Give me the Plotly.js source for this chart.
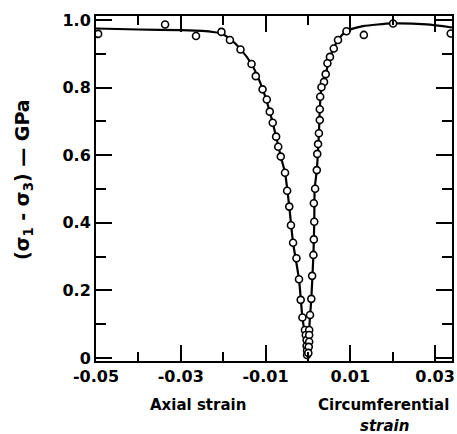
<!DOCTYPE html>
<html>
<head>
<meta charset="utf-8">
<script src="https://cdn.plot.ly/plotly-3.0.1.min.js"></script>
<style>html,body{margin:0;padding:0;background:#fff;}#chart{width:457px;height:434px;}</style>
</head>
<body>
<div id="chart"></div>
<script>
// Measured points: axial strain branch (negative strain)
const axialStrain = [-0.0495, -0.0337, -0.0264, -0.0204, -0.0184, -0.0159, -0.0133, -0.0123, -0.0107, -0.0097, -0.0090, -0.0083, -0.0075, -0.0070, -0.0064, -0.0054, -0.0049, -0.0044, -0.0040, -0.0035, -0.0027, -0.0021, -0.0017, -0.0013, -0.0007, -0.0005, -0.0003, -0.0003, -0.0002, -0.0002];
const axialStress = [0.959, 0.987, 0.953, 0.965, 0.941, 0.913, 0.870, 0.834, 0.795, 0.765, 0.729, 0.696, 0.655, 0.625, 0.596, 0.548, 0.495, 0.448, 0.393, 0.341, 0.295, 0.233, 0.172, 0.120, 0.083, 0.068, 0.053, 0.036, 0.022, 0.009];
// Measured points: circumferential strain branch (positive strain)
const circStrain = [0.0337, 0.0201, 0.0132, 0.0091, 0.0071, 0.0061, 0.0052, 0.0046, 0.0042, 0.0038, 0.0032, 0.0029, 0.0028, 0.0028, 0.0026, 0.0024, 0.0022, 0.0021, 0.0017, 0.0014, 0.0015, 0.0014, 0.0013, 0.0010, 0.0008, 0.0005, 0.0003, 0.0003, 0.0003, 0.0002, 0.0001];
const circStress = [0.960, 0.990, 0.956, 0.967, 0.941, 0.916, 0.891, 0.872, 0.840, 0.817, 0.801, 0.773, 0.736, 0.704, 0.665, 0.633, 0.604, 0.556, 0.501, 0.458, 0.403, 0.351, 0.305, 0.243, 0.175, 0.127, 0.083, 0.068, 0.048, 0.033, 0.015];
// Fitted curves
const fitAxialStrain = [-0.0500, -0.0400, -0.0300, -0.0250, -0.0220, -0.0204, -0.0184, -0.0159, -0.0133, -0.0107, -0.0090, -0.0075, -0.0064, -0.0054, -0.0044, -0.0035, -0.0021, -0.0013, -0.0006, -0.0002];
const fitAxialStress = [0.975, 0.972, 0.970, 0.968, 0.964, 0.960, 0.944, 0.914, 0.870, 0.797, 0.729, 0.655, 0.596, 0.548, 0.448, 0.341, 0.233, 0.120, 0.060, 0.000];
const fitCircStrain = [0.0002, 0.0003, 0.0008, 0.0013, 0.0015, 0.0016, 0.0021, 0.0026, 0.0028, 0.0032, 0.0042, 0.0052, 0.0071, 0.0091, 0.0130, 0.0200, 0.0280, 0.0340];
const fitCircStress = [0.000, 0.083, 0.175, 0.305, 0.403, 0.501, 0.556, 0.665, 0.736, 0.801, 0.840, 0.891, 0.941, 0.967, 0.982, 0.990, 0.987, 0.978];

const xTickVals = [-0.05, -0.03, -0.01, 0.01, 0.03];
const xTickText = ['-0.05', '-0.03', '-0.01', '0.01', '0.03'];
const xMinorVals = [-0.04, -0.02, 0, 0.02];
const yTickVals = [0, 0.2, 0.4, 0.6, 0.8, 1.0];
const yTickText = ['0', '0.2', '0.4', '0.6', '0.8', '1.0'];
const yMinorVals = [0.1, 0.3, 0.5, 0.7, 0.9];

const lineStyle = {color: '#000', width: 2.2, shape: 'spline', smoothing: 0.6};
const markerStyle = {symbol: 'circle', size: 7, color: '#fff', line: {color: '#000', width: 1.6}};

const traces = [
  {x: fitAxialStrain, y: fitAxialStress, mode: 'lines', line: lineStyle, hoverinfo: 'skip'},
  {x: fitCircStrain, y: fitCircStress, mode: 'lines', line: lineStyle, hoverinfo: 'skip'},
  {x: axialStrain, y: axialStress, mode: 'markers', marker: markerStyle},
  {x: circStrain, y: circStress, mode: 'markers', marker: markerStyle}
];

const tickFont = {family: 'DejaVu Sans', size: 16, color: '#000', weight: 'bold'};
const labelFont = {family: 'DejaVu Sans', size: 15, color: '#000', weight: 'bold'};

const layout = {
  width: 457, height: 434,
  margin: {l: 96, r: 5, t: 16, b: 73},
  paper_bgcolor: '#fff', plot_bgcolor: '#fff',
  showlegend: false,
  xaxis: {
    range: [-0.05, 0.034],
    showline: true, linecolor: '#000', linewidth: 2, mirror: 'ticks',
    ticks: 'inside', ticklen: 16, tickwidth: 2, tickcolor: '#000',
    tickmode: 'array', tickvals: xTickVals, ticktext: xTickText,
    minor: {tickmode: 'array', tickvals: xMinorVals, ticks: 'inside', ticklen: 9, tickwidth: 2, tickcolor: '#000'},
    showgrid: false, zeroline: false,
    tickfont: tickFont
  },
  yaxis: {
    range: [-0.0089, 1.012],
    showline: true, linecolor: '#000', linewidth: 2, mirror: 'ticks',
    ticks: 'inside', ticklen: 16, tickwidth: 2, tickcolor: '#000',
    tickmode: 'array', tickvals: yTickVals, ticktext: yTickText,
    minor: {tickmode: 'array', tickvals: yMinorVals, ticks: 'inside', ticklen: 10, tickwidth: 2, tickcolor: '#000'},
    showgrid: false, zeroline: false,
    tickfont: tickFont
  },
  annotations: [
    {text: 'Axial strain', xref: 'paper', yref: 'paper', x: (198 - 96) / 356, y: -(405 - 361) / 345,
     showarrow: false, xanchor: 'center', yanchor: 'middle', font: labelFont},
    {text: 'Circumferential', xref: 'paper', yref: 'paper', x: (383 - 96) / 356, y: -(405 - 361) / 345,
     showarrow: false, xanchor: 'center', yanchor: 'middle', font: labelFont},
    {text: '<i>strain</i>', xref: 'paper', yref: 'paper', x: (384 - 96) / 356, y: -(426 - 361) / 345,
     showarrow: false, xanchor: 'center', yanchor: 'middle', font: labelFont},
    {text: '(σ<sub>1</sub> - σ<sub>3</sub>) — GPa', xref: 'paper', yref: 'paper', x: -(96 - 24) / 356, y: (361 - 180) / 345,
     showarrow: false, xanchor: 'center', yanchor: 'middle', textangle: -90,
     font: {family: 'DejaVu Sans', size: 19, color: '#000', weight: 'bold'}}
  ]
};

Plotly.newPlot('chart', traces, layout, {staticPlot: true, displayModeBar: false});
</script>
</body>
</html>
